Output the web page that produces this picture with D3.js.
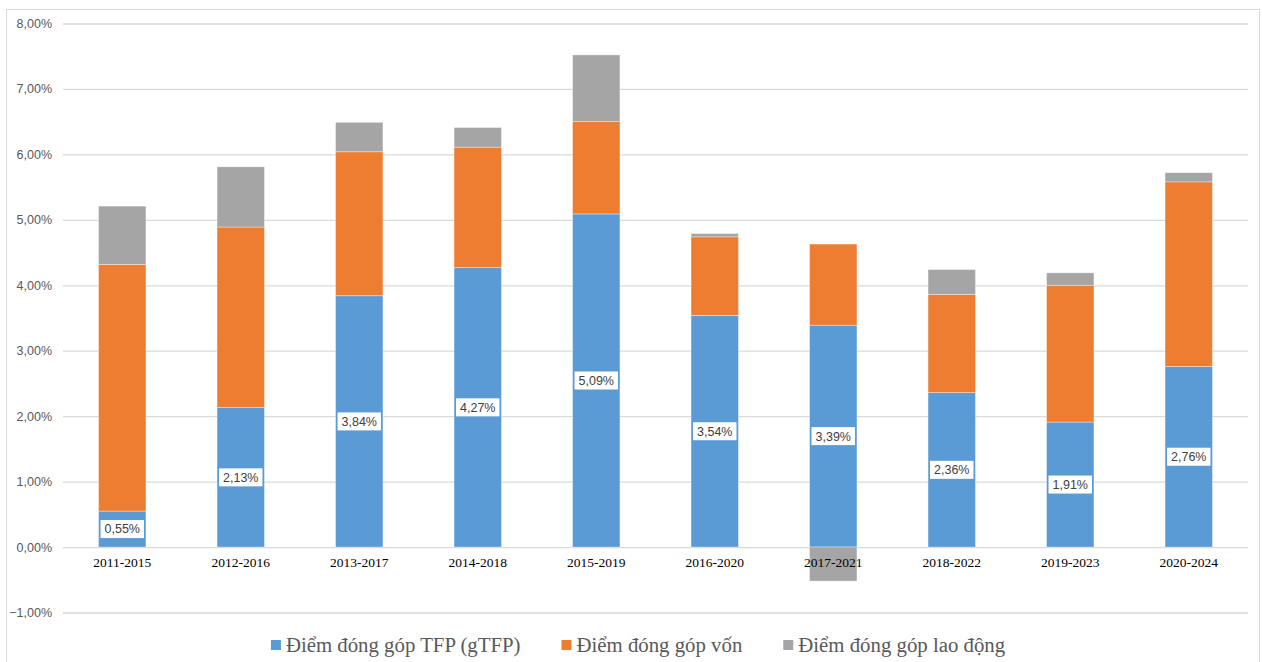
<!DOCTYPE html>
<html>
<head>
<meta charset="utf-8">
<script src="https://cdn.jsdelivr.net/npm/d3@7"></script>
<style>
  html, body { margin: 0; padding: 0; background: #fff; }
  svg { display: block; }
</style>
</head>
<body>
<svg id="chart" width="1262" height="662"></svg>
<script>
const categories = ["2011-2015","2012-2016","2013-2017","2014-2018","2015-2019","2016-2020","2017-2021","2018-2022","2019-2023","2020-2024"];
const tfp     = [0.55, 2.13, 3.84, 4.27, 5.09, 3.54, 3.39, 2.36, 1.91, 2.76];
const capital = [3.77, 2.76, 2.20, 1.84, 1.41, 1.20, 1.24, 1.50, 2.09, 2.82];
const labor   = [0.89, 0.92, 0.45, 0.30, 1.02, 0.05, -0.52, 0.38, 0.19, 0.14];
const seriesNames = ["Điểm đóng góp TFP (gTFP)", "Điểm đóng góp vốn", "Điểm đóng góp lao động"];
const colors = ["#5B9BD5", "#ED7D31", "#A5A5A5"];
const yTicks = [-1, 0, 1, 2, 3, 4, 5, 6, 7, 8];

const svg = d3.select("#chart");
const plot = { left: 63, right: 1248, top: 23.5, bottom: 612.5 };

// outer frame
svg.append("rect").attr("x", 6.5).attr("y", 9.5).attr("width", 1253).attr("height", 670)
  .attr("fill", "none").attr("stroke", "#D9D9D9").attr("stroke-width", 1);

const x = d3.scaleBand().domain(categories).range([plot.left, plot.right]).paddingInner(0.6).paddingOuter(0.3);
const y = d3.scaleLinear().domain([-1, 8]).range([plot.bottom, plot.top]);

// gridlines + y tick labels
const gAxis = svg.append("g")
  .attr("transform", `translate(${plot.left},0)`)
  .call(d3.axisLeft(y).tickValues(yTicks).tickSize(-(plot.right - plot.left)).tickPadding(11)
    .tickFormat(d => d3.format(".2f")(d).replace(".", ",") + "%"));
gAxis.select(".domain").remove();
gAxis.selectAll(".tick line").attr("stroke", "#D9D9D9").attr("stroke-width", 1.3);
gAxis.selectAll(".tick text").attr("fill", "#595959").attr("font-family", "Liberation Sans, Arial, sans-serif").attr("font-size", "12.5px");

// stacked data
const rows = categories.map((c, i) => ({ cat: c, vals: [tfp[i], capital[i], labor[i]] }));
const segs = [];
rows.forEach(r => {
  let pos = 0, neg = 0;
  r.vals.forEach((v, k) => {
    let y0, y1;
    if (v >= 0) { y0 = pos; y1 = pos + v; pos = y1; }
    else { y0 = neg + v; y1 = neg; neg = y0; }
    segs.push({ cat: r.cat, k, y0, y1, v });
  });
});

svg.append("g").selectAll("rect").data(segs).join("rect")
  .attr("x", d => x(d.cat))
  .attr("width", x.bandwidth())
  .attr("y", d => y(d.y1))
  .attr("height", d => y(d.y0) - y(d.y1))
  .attr("fill", d => colors[d.k])
  .attr("stroke", "#ffffff").attr("stroke-opacity", 0.5).attr("stroke-width", 0.7);

// category labels
svg.append("g").selectAll("text").data(categories).join("text")
  .attr("x", d => x(d) + x.bandwidth() / 2)
  .attr("y", y(0) + 20)
  .attr("text-anchor", "middle")
  .attr("font-family", "Liberation Serif, 'Times New Roman', serif")
  .attr("font-size", "13.5px")
  .attr("fill", "#000")
  .text(d => d);

// data labels for TFP
const lblG = svg.append("g");
segs.filter(d => d.k === 0).forEach(d => {
  const cx = x(d.cat) + x.bandwidth() / 2;
  const cy = (y(d.y0) + y(d.y1)) / 2;
  const txt = d3.format(".2f")(d.v).replace(".", ",") + "%";
  const g = lblG.append("g");
  const t = g.append("text").attr("x", cx).attr("y", cy).attr("dy", "0.35em")
    .attr("text-anchor", "middle")
    .attr("font-family", "Liberation Sans, Arial, sans-serif")
    .attr("font-size", "12.5px").attr("fill", "#404040").text(txt);
  const bb = t.node().getBBox();
  g.insert("rect", "text").attr("x", cx - (bb.width + 8) / 2).attr("y", cy - 9)
    .attr("width", bb.width + 8).attr("height", 18).attr("fill", "#fff");
});

// legend
const legend = svg.append("g");
const items = [];
seriesNames.forEach((n, i) => {
  const g = legend.append("g");
  g.append("rect").attr("width", 10).attr("height", 10).attr("y", -5).attr("fill", colors[i]);
  const t = g.append("text").attr("x", 15).attr("dy", "0.35em")
    .attr("font-family", "Liberation Serif, 'Times New Roman', serif")
    .attr("font-size", "20.8px").attr("fill", "#595959").text(n);
  items.push({ g, w: 15 + t.node().getComputedTextLength() });
});
const gap = 41;
const total = d3.sum(items, d => d.w) + gap * (items.length - 1);
let lx = 638 - total / 2;
items.forEach(it => { it.g.attr("transform", `translate(${lx},645)`); lx += it.w + gap; });
</script>
</body>
</html>
